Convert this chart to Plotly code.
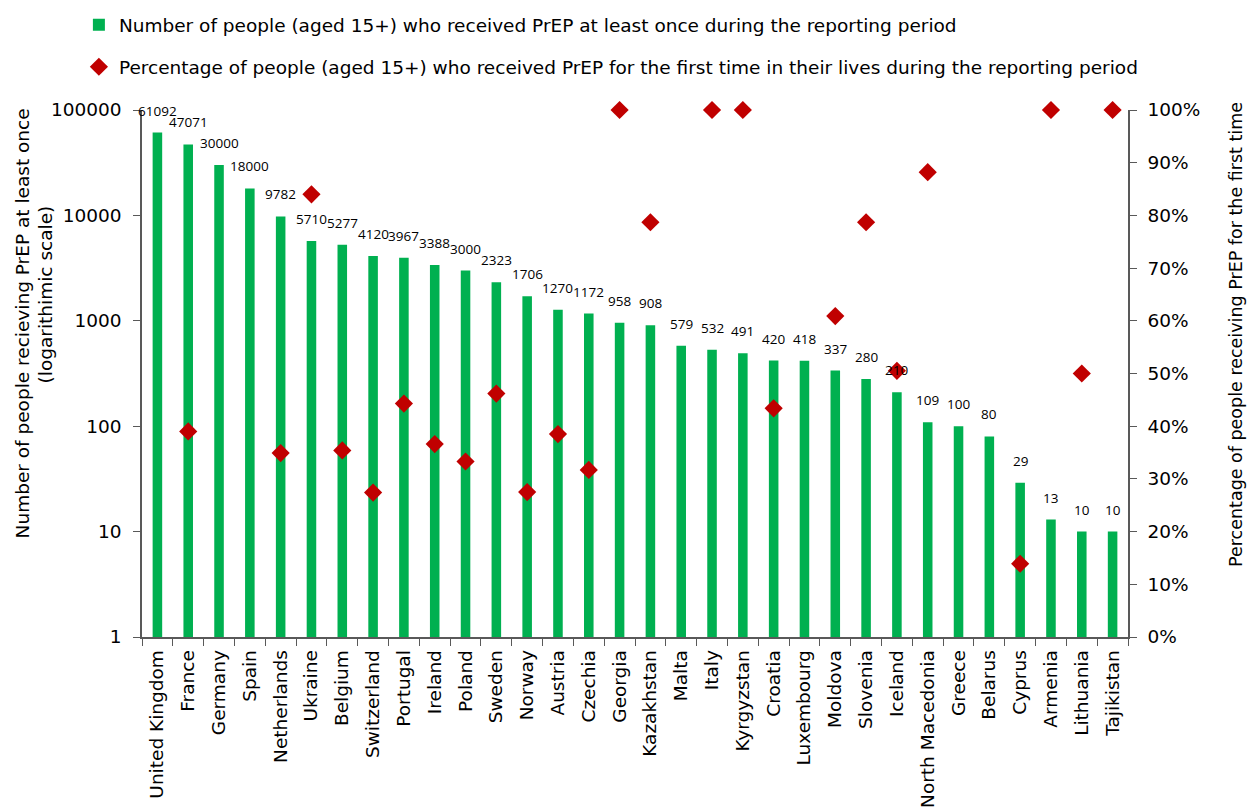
import numpy as np
import plotly.graph_objects as go

countries = ["United Kingdom", "France", "Germany", "Spain", "Netherlands", "Ukraine", "Belgium",
             "Switzerland", "Portugal", "Ireland", "Poland", "Sweden", "Norway", "Austria", "Czechia",
             "Georgia", "Kazakhstan", "Malta", "Italy", "Kyrgyzstan", "Croatia", "Luxembourg", "Moldova",
             "Slovenia", "Iceland", "North Macedonia", "Greece", "Belarus", "Cyprus", "Armenia",
             "Lithuania", "Tajikistan"]
people = [61092, 47071, 30000, 18000, 9782, 5710, 5277, 4120, 3967, 3388, 3000, 2323, 1706, 1270,
          1172, 958, 908, 579, 532, 491, 420, 418, 337, 280, 210, 109, 100, 80, 29, 13, 10, 10]
first_time_pct = [None, 0.39, None, None, 0.349, 0.84, 0.354, 0.274, 0.443, 0.366, 0.333, 0.462,
                  0.275, 0.385, 0.317, 1.0, 0.787, None, 1.0, 1.0, 0.434, None, 0.609, 0.787,
                  0.505, 0.882, None, None, 0.139, 1.0, 0.50, 1.0]

y_ticks = [1, 10, 100, 1000, 10000, 100000]
left_title = ["Number of people recieving PrEP at least once", "(logarithimic scale)"]
right_title = "Percentage of people receiving PrEP for the first time"

font_main = "DejaVu Sans"
fs = 18.5
axis_color = "#595959"

fig = go.Figure()
fig.add_trace(go.Bar(
    x=countries, y=people, width=0.31, marker=dict(color="#00B050", line=dict(width=0)),
    name="Number of people (aged 15+) who received PrEP at least once during the reporting period",
    legendgroup="a",
))
fig.add_trace(go.Scatter(
    x=countries, y=first_time_pct, mode="markers", yaxis="y2", cliponaxis=False,
    marker=dict(symbol="diamond", size=14, color="#C00000"),
    name="Percentage of people (aged 15+) who received PrEP for the first time in their lives during the reporting period",
    legendgroup="b",
))

for c, v in zip(countries, people):
    fig.add_annotation(x=c, y=np.log10(v), text=str(v), showarrow=False, yanchor="bottom",
                       yshift=11, font=dict(family="Open Sans", size=13.5, color="black"))

# axis titles (positioned like the original, slightly above the vertical centre)
fig.add_annotation(xref="paper", yref="paper", x=-0.1217, y=0.595, text=left_title[0],
                   textangle=-90, showarrow=False, xanchor="center", yanchor="middle",
                   font=dict(family=font_main, size=fs, color="black"))
fig.add_annotation(xref="paper", yref="paper", x=-0.0984, y=0.65, text=left_title[1],
                   textangle=-90, showarrow=False, xanchor="center", yanchor="middle",
                   font=dict(family=font_main, size=fs, color="black"))
fig.add_annotation(xref="paper", yref="paper", x=1.1095, y=0.575, text=right_title,
                   textangle=-90, showarrow=False, xanchor="center", yanchor="middle",
                   font=dict(family=font_main, size=17.5, color="black"))

fig.update_layout(
    width=1247, height=810,
    margin=dict(l=142, r=119, t=110, b=173, autoexpand=False),
    plot_bgcolor="white", paper_bgcolor="white",
    font=dict(family=font_main, color="black", size=fs),
    showlegend=True,
    legend=dict(x=-0.064, y=1.197, xanchor="left", yanchor="top", orientation="v",
                font=dict(family=font_main, size=fs, color="black"),
                tracegroupgap=15, itemwidth=30, bgcolor="rgba(0,0,0,0)"),
    xaxis=dict(type="category", range=[-0.5, len(countries) - 0.5], tickangle=-90, showline=True,
               linecolor=axis_color, linewidth=1.5,
               ticks="outside", tickcolor=axis_color, ticklen=7, tickson="boundaries",
               ticklabelstandoff=4,
               tickfont=dict(family=font_main, size=fs, color="black"), showgrid=False),
    yaxis=dict(type="log", range=[0, 5], tickvals=y_ticks, ticktext=[str(t) for t in y_ticks],
               showline=True, linecolor=axis_color, linewidth=1.5, ticks="outside",
               tickcolor=axis_color, ticklen=7, showgrid=False, zeroline=False,
               ticklabelstandoff=8,
               tickfont=dict(family=font_main, size=fs, color="black")),
    yaxis2=dict(overlaying="y", side="right", range=[0, 1], dtick=0.1, tickformat=".0%",
                showline=True, linecolor=axis_color, linewidth=1.5, ticks="outside",
                tickcolor=axis_color, ticklen=7, showgrid=False, zeroline=False,
                ticklabelstandoff=7,
                tickfont=dict(family=font_main, size=fs, color="black")),
)

fig.write_html("out.html")
